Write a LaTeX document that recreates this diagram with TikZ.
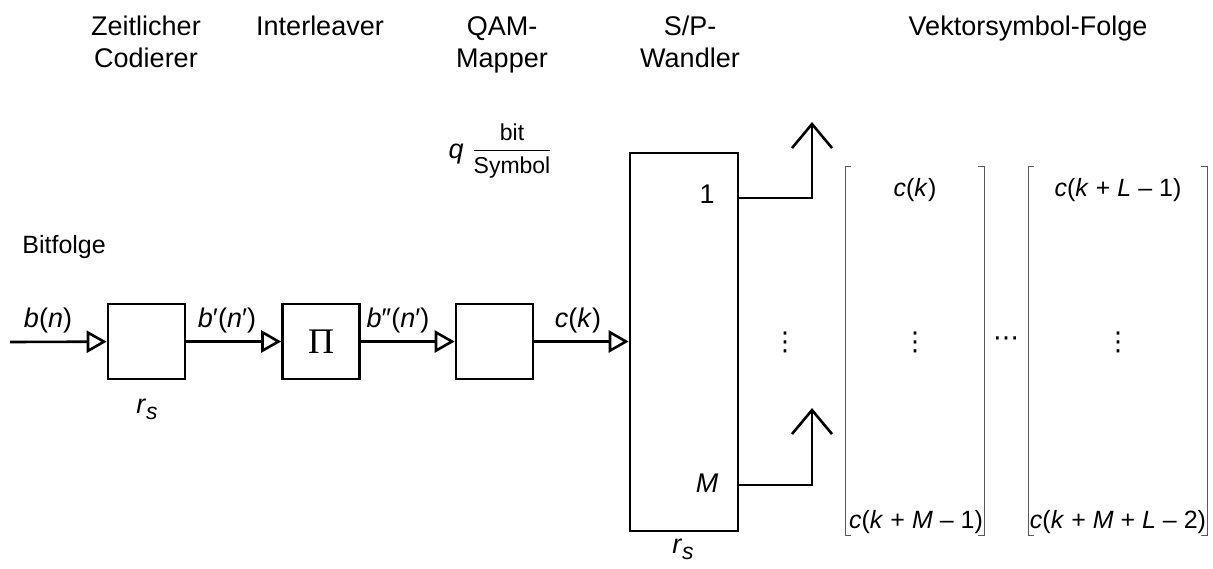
\documentclass[tikz,border=0pt]{standalone}
\usepackage{fontspec}
\setmainfont{Liberation Sans}
\newfontfamily\pifont{Liberation Serif}
\newfontfamily\dotfont{DejaVu Sans}
\usetikzlibrary{arrows.meta}
\newcommand\vi[1]{\textit{#1}}
\begin{document}
\begin{tikzpicture}[x=0.5pt,y=-0.5pt,
  txt/.style={inner sep=0pt, font=\fontsize{13.5}{16}\selectfont},
  mtx/.style={inner sep=0pt, font=\fontsize{12.5}{15}\selectfont},
  dts/.style={inner sep=0pt, font=\dotfont\fontsize{13}{15}\selectfont},
  blk/.style={draw, line width=1.3pt, minimum width=38.5pt, minimum height=37.5pt, inner sep=0pt},
  flow/.style={line width=1.3pt, -{Triangle[open, length=10pt, width=11pt]}},
  outarr/.style={line width=1.3pt, -{Straight Barb[length=12pt, width=20pt]}},
  brk/.style={line width=0.5pt, draw=black!65},
]
\useasboundingbox (0,0) rectangle (1213,568);

% headings
\node[txt, anchor=base, align=center] (h1) at (146,67) {Zeitlicher\\Codierer};
\node[txt, anchor=base] (h2) at (320,35) {Interleaver};
\node[txt, anchor=base, align=center] (h3) at (502,67) {QAM-\\Mapper};
\node[txt, anchor=base, align=center] (h4) at (690,67) {S/P-\\Wandler};
\node[txt, anchor=base] (h5) at (1028,35) {Vektorsymbol-Folge};
\node[inner sep=0pt, font=\fontsize{12.5}{14}\selectfont, anchor=base west] (bf) at (22,253) {Bitfolge};

% blocks
\coordinate (in) at (10,342);
\node[blk] (b1) at (146.5,341.5) {};
\node[blk] (b2) at (321,341.5) {\pifont\fontsize{18}{18}\selectfont Π};
\node[blk] (b3) at (494.5,341.5) {};
\node[blk, minimum width=54pt, minimum height=189pt] (sp) at (684,342) {};

% connectors
\draw[flow] (in) -- (b1);
\draw[flow] (b1) -- (b2);
\draw[flow] (b2) -- (b3);
\draw[flow] (b3) -- (sp.west |- b3);

% connector labels
\node[txt, anchor=base] (lb1) at (48,327) {\vi{b}(\vi{n})};
\node[txt, anchor=base] (lb2) at (227,327) {\vi{b}′(\vi{n}′)};
\node[txt, anchor=base] (lb3) at (398,327) {\vi{b}″(\vi{n}′)};
\node[txt, anchor=base] (lb4) at (578,327) {\vi{c}(\vi{k})};
\node[txt, anchor=base] (rs1) at (147,413) {\vi{r}\raisebox{-0.45ex}{\fontsize{11.5}{11.5}\selectfont\vi{s}}};
\node[txt, anchor=base] (rs2) at (683,553) {\vi{r}\raisebox{-0.45ex}{\fontsize{11.5}{11.5}\selectfont\vi{s}}};

% q bit/Symbol
\node[txt, anchor=base] (q) at (456,158) {\vi{q}};
\node[inner sep=0pt, font=\fontsize{11.5}{13}\selectfont] (fr) at (512,151) {$\displaystyle\frac{\mbox{bit}}{\mbox{Symbol}}$};

% S/P outputs
\node[txt, anchor=base] (one) at (707,203) {1};
\node[txt, anchor=base] (em) at (707,492) {\vi{M}};
\coordinate (y1) at (0,198);
\coordinate (y2) at (0,485);
\coordinate (t1) at (812,122);
\coordinate (t2) at (812,408);
\draw[outarr] (sp.east |- y1) -| (t1);
\draw[outarr] (sp.east |- y2) -| (t2);

\node[dts] (vd0) at (785,342) {⋮};

% vectors
\draw[brk] (851,166) -- (845,166) -- (845,535) -- (851,535);
\draw[brk] (978,166) -- (984,166) -- (984,535) -- (978,535);
\draw[brk] (1034,166) -- (1028,166) -- (1028,535) -- (1034,535);
\draw[brk] (1201,166) -- (1207,166) -- (1207,535) -- (1201,535);

\node[mtx, anchor=base] (m11) at (915,196) {\vi{c}(\vi{k})};
\node[dts] (m12) at (915,342) {⋮};
\node[mtx, anchor=base] (m13) at (916,528) {\vi{c}(\vi{k} + \vi{M} – 1)};
\node[dts] (hd) at (1006,342) {⋯};
\node[mtx, anchor=base] (m21) at (1118,196) {\vi{c}(\vi{k} + \vi{L} – 1)};
\node[dts] (m22) at (1118,342) {⋮};
\node[mtx, anchor=base] (m23) at (1118,528) {\vi{c}(\vi{k} + \vi{M} + \vi{L} – 2)};
\end{tikzpicture}
\end{document}
